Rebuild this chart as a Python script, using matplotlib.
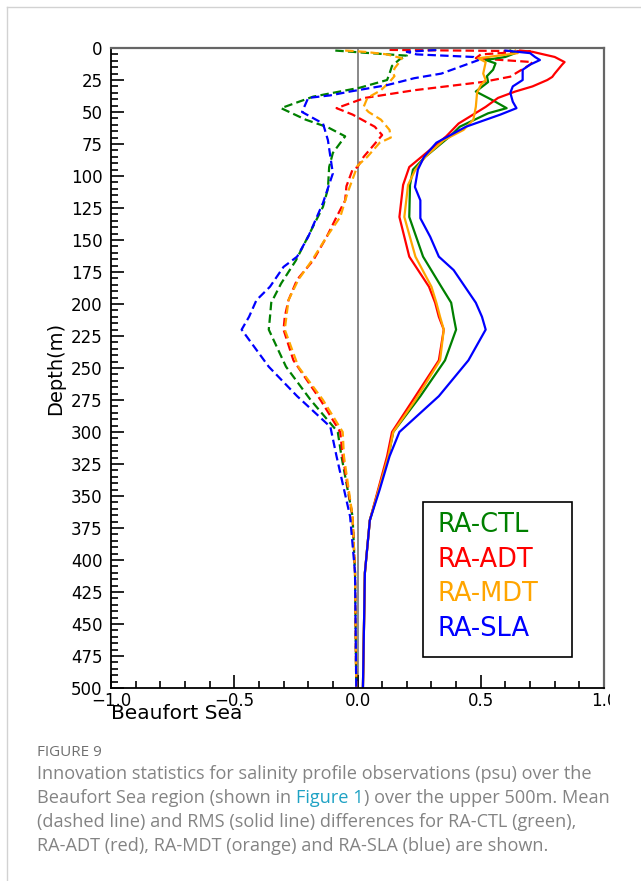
import numpy as np
import matplotlib
matplotlib.use('Agg')
import matplotlib.pyplot as plt
from matplotlib.lines import Line2D
from matplotlib.patches import Rectangle
from matplotlib.ticker import MultipleLocator

## data (x = innovation in psu, depth in m)

ctl_mean_depth = [2, 4, 6, 9, 14, 20, 25, 31, 38, 47, 56, 62, 69, 82, 93, 110, 124, 147, 166, 184, 199, 210, 220, 249, 275, 300, 319, 366, 410, 500]
ctl_mean = [-0.09, 0.05, 0.2, 0.17, 0.14, 0.13, 0.12, 0.01, -0.18, -0.31, -0.21, -0.12, -0.05, -0.10, -0.115, -0.12, -0.14, -0.20, -0.25, -0.31, -0.35, -0.355, -0.36, -0.29, -0.19, -0.08, -0.065, -0.02, -0.01, -0.005]

adt_mean_depth = [1.5, 2.5, 5, 8, 11, 13, 20, 22.4, 26.5, 33, 39, 47, 52, 61.5, 68, 76, 85, 93, 95, 108, 119, 132, 147.5, 166, 181, 197, 210, 220, 244, 275, 300, 319, 366, 410, 500]
adt_mean = [0.13, 0.7, 0.5, 0.48, 0.71, 0.70, 0.64, 0.62, 0.51, 0.23, 0.03, -0.085, -0.02, 0.07, 0.10, 0.065, 0.025, 0.0, -0.02, -0.045, -0.05, -0.085, -0.125, -0.18, -0.245, -0.28, -0.295, -0.30, -0.26, -0.15, -0.07, -0.06, -0.02, -0.01, -0.005]

mdt_mean_depth = [2, 3, 5, 8, 11, 16, 20, 22, 26.5, 33, 39, 46, 50, 56, 64, 70, 74, 85, 92, 113, 132, 147.5, 166, 181, 197, 220, 249, 275, 300, 319, 366, 410, 500]
mdt_mean = [-0.05, 0.03, 0.12, 0.18, 0.17, 0.15, 0.145, 0.15, 0.13, 0.095, 0.04, 0.025, 0.045, 0.095, 0.13, 0.135, 0.09, 0.04, 0.0, -0.04, -0.07, -0.125, -0.185, -0.24, -0.28, -0.295, -0.24, -0.14, -0.06, -0.055, -0.02, -0.01, -0.005]

sla_mean_depth = [1.5, 3, 5, 7, 9.5, 13, 20, 23.6, 29, 34, 37, 39, 50, 59, 72, 85, 98, 121, 147.5, 163, 171, 186.5, 197, 210, 220, 249, 272, 296, 319, 366, 410, 500]
sla_mean = [0.32, 0.2, 0.24, 0.47, 0.49, 0.44, 0.34, 0.23, 0.12, -0.03, -0.11, -0.2, -0.225, -0.14, -0.12, -0.11, -0.10, -0.14, -0.2, -0.245, -0.30, -0.355, -0.41, -0.44, -0.47, -0.36, -0.245, -0.11, -0.085, -0.03, -0.01, -0.005]

ctl_rms_depth = [2, 4, 7, 9.4, 12, 17, 22, 26.6, 34, 41, 47, 51, 61.5, 69, 85, 95, 107, 132, 163, 186.5, 199, 210, 220, 244, 272, 300, 319, 369, 410, 500]
ctl_rms = [0.62, 0.64, 0.60, 0.52, 0.56, 0.55, 0.525, 0.53, 0.48, 0.55, 0.605, 0.53, 0.415, 0.375, 0.275, 0.225, 0.213, 0.21, 0.266, 0.34, 0.38, 0.39, 0.40, 0.355, 0.255, 0.145, 0.125, 0.05, 0.03, 0.022]

adt_rms_depth = [2, 3, 7, 11, 13, 20, 22.6, 25, 30, 34, 39, 46, 59, 69, 85, 93, 107, 132, 163, 186.5, 199, 210, 220, 244, 275, 300, 319, 369, 410, 500]
adt_rms = [0.66, 0.71, 0.8, 0.84, 0.83, 0.80, 0.79, 0.77, 0.71, 0.64, 0.57, 0.52, 0.41, 0.36, 0.26, 0.21, 0.185, 0.17, 0.21, 0.29, 0.315, 0.33, 0.35, 0.33, 0.225, 0.14, 0.12, 0.05, 0.03, 0.022]

mdt_rms_depth = [2, 4, 8, 11, 20, 25, 29, 35, 46, 56, 64, 72, 85, 95, 107, 132, 163, 186.5, 199, 210, 220, 244, 275, 300, 319, 369, 410, 500]
mdt_rms = [0.64, 0.65, 0.49, 0.52, 0.51, 0.52, 0.50, 0.485, 0.48, 0.47, 0.43, 0.35, 0.275, 0.235, 0.205, 0.19, 0.235, 0.30, 0.32, 0.335, 0.35, 0.335, 0.235, 0.145, 0.125, 0.05, 0.03, 0.022]

sla_rms_depth = [2, 4, 7, 9.4, 13, 17, 25, 30, 35, 42, 47, 52, 61.5, 74, 85, 95, 108.6, 119, 133, 147.5, 163, 173.5, 199, 210, 220, 244, 272, 300, 319, 345, 369, 410, 500]
sla_rms = [0.6, 0.7, 0.72, 0.74, 0.70, 0.67, 0.67, 0.63, 0.62, 0.63, 0.645, 0.58, 0.44, 0.32, 0.27, 0.245, 0.233, 0.255, 0.255, 0.295, 0.33, 0.39, 0.48, 0.505, 0.52, 0.45, 0.33, 0.17, 0.13, 0.09, 0.05, 0.03, 0.022]

labels = ['RA-CTL', 'RA-ADT', 'RA-MDT', 'RA-SLA']
colors = ['green', 'red', 'orange', 'blue']

caption_head = 'FIGURE 9'
caption_lines = [
	'Innovation statistics for salinity profile observations (psu) over the',
	['Beaufort Sea region (shown in ', 'Figure 1', ') over the upper 500m. Mean'],
	'(dashed line) and RMS (solid line) differences for RA-CTL (green),',
	'RA-ADT (red), RA-MDT (orange) and RA-SLA (blue) are shown.',
]

W, H = 641, 881

def fx(px):
	return px/W

def fy(py):
	return 1 - py/H


fig = plt.figure(figsize=(W/100, H/100), dpi=100)
ax = fig.add_axes([fx(111), fy(688), fx(604)-fx(111), fy(48)-fy(688)])

means = [(ctl_mean, ctl_mean_depth), (adt_mean, adt_mean_depth), (mdt_mean, mdt_mean_depth), (sla_mean, sla_mean_depth)]
rmss = [(ctl_rms, ctl_rms_depth), (adt_rms, adt_rms_depth), (mdt_rms, mdt_rms_depth), (sla_rms, sla_rms_depth)]

ax.axvline(0, color='#808080', lw=1.3, zorder=1)
for (x, d), c in zip(means, colors):
	ax.plot(x, d, color=c, lw=1.6, ls='--', dashes=(3.8, 1.9))
for (x, d), c in zip(rmss, colors):
	ax.plot(x, d, color=c, lw=1.6)

ax.set_xlim(-1, 1)
ax.set_ylim(500, 0)
ax.xaxis.set_major_locator(MultipleLocator(0.5))
ax.xaxis.set_minor_locator(MultipleLocator(0.1))
ax.yaxis.set_major_locator(MultipleLocator(25))
ax.yaxis.set_minor_locator(MultipleLocator(5))
ax.tick_params(which='both', direction='in', top=False, right=False, width=1.2, colors='black', labelsize=12)
ax.tick_params(which='major', length=9.5)
ax.tick_params(which='minor', length=5)
ax.tick_params(axis='y', pad=6)
ax.tick_params(axis='x', pad=3)

for s in ['left', 'bottom']:
	ax.spines[s].set_color('black')
	ax.spines[s].set_linewidth(1.3)
for s in ['top', 'right']:
	ax.spines[s].set_color('#666666')
	ax.spines[s].set_linewidth(1.6)

ax.set_ylabel('Depth(m)', fontsize=14, labelpad=4)
fig.text(fx(111), fy(719), 'Beaufort Sea', fontsize=14.5, ha='left', va='baseline')

# legend: framed box with coloured labels only
fig.patches.append(Rectangle((fx(423), fy(657)), fx(572) - fx(423), fy(502) - fy(657),
	transform=fig.transFigure, facecolor='white', edgecolor='black', lw=1.2, zorder=5))
for i, (lab, c) in enumerate(zip(labels, colors)):
	fig.text(fx(437), fy(525 + 34.7*i), lab, color=c, fontsize=18.5, ha='left', va='center', zorder=6)

# cut-off of the 1.0 label on the right, as in the source image
fig.patches.append(Rectangle((fx(609.5), fy(716)), 1 - fx(609.5), fy(689) - fy(716),
	transform=fig.transFigure, facecolor='white', edgecolor='none', zorder=10))

# page border
fig.add_artist(Line2D([fx(6.5), fx(6.5)], [0, fy(6.5)], color='#d2d2d2', lw=1))
fig.add_artist(Line2D([fx(6.5), 1], [fy(6.5), fy(6.5)], color='#d2d2d2', lw=1))

## caption
cap_font = 'Open Sans'
cap_col = '#838383'
fig.text(fx(37), fy(752), caption_head, fontsize=11, color='#707070', family=cap_font, va='center')

renderer = fig.canvas.get_renderer()
y0 = 774
for i, line in enumerate(caption_lines):
	yy = fy(y0 + 24*i)
	if isinstance(line, str):
		fig.text(fx(37), yy, line, fontsize=13.1, color=cap_col, family=cap_font, va='center')
	else:
		xx = fx(37)
		for j, part in enumerate(line):
			c = '#1ea2c4' if j == 1 else cap_col
			t = fig.text(xx, yy, part, fontsize=13.1, color=c, family=cap_font, va='center')
			bb = t.get_window_extent(renderer)
			xx = xx + bb.width/W

fig.savefig('out.png', dpi=100, facecolor='white')
